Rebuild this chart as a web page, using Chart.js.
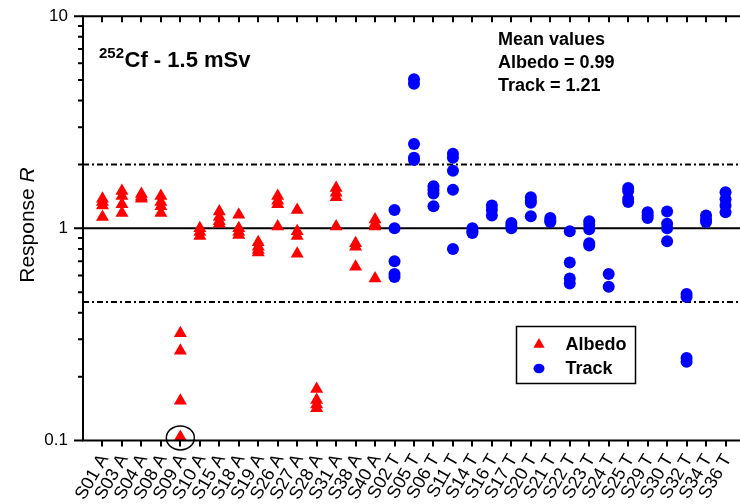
<!DOCTYPE html>
<html><head><meta charset="utf-8">
<script src="https://cdn.jsdelivr.net/npm/chart.js@4"></script>
<style>
html,body{margin:0;padding:0;background:#fff;overflow:hidden;}
#wrap{width:760px;height:504px;position:relative;}
</style></head><body>
<div id="wrap"><canvas id="c" width="760" height="504"></canvas></div>
<script>
// ---------- data ----------
const categories = ['S01 A','S03 A','S04 A','S08 A','S09 A','S10 A','S15 A','S18 A','S19 A','S26 A','S27 A','S28 A','S31 A','S38 A','S40 A',
  'S02 T','S05 T','S06 T','S11 T','S14 T','S16 T','S17 T','S20 T','S21 T','S22 T','S23 T','S24 T','S25 T','S29 T','S30 T','S32 T','S34 T','S36 T'];
const albedoCategories = ['S01 A','S03 A','S04 A','S08 A','S09 A','S10 A','S15 A','S18 A','S19 A','S26 A','S27 A','S28 A','S31 A','S38 A','S40 A'];
const albedoValues = [
  [1.38, 1.33, 1.28, 1.13],
  [1.50, 1.42, 1.30, 1.18],
  [1.45, 1.41, 1.38],
  [1.42, 1.33, 1.27, 1.18],
  [0.32, 0.265, 0.154, 0.104],
  [1.00, 0.96, 0.92],
  [1.20, 1.13, 1.08, 1.05],
  [1.16, 1.00, 0.96, 0.93],
  [0.86, 0.82, 0.79, 0.77],
  [1.42, 1.35, 1.30, 1.02],
  [1.22, 0.97, 0.92, 0.76],
  [0.175, 0.155, 0.148, 0.142],
  [1.55, 1.47, 1.40, 1.02],
  [0.85, 0.82, 0.66],
  [1.10, 1.05, 1.02, 0.58]
];
const trackCategories = ['S02 T','S05 T','S06 T','S11 T','S14 T','S16 T','S17 T','S20 T','S21 T','S22 T','S23 T','S24 T','S25 T','S29 T','S30 T','S32 T','S34 T','S36 T'];
const trackValues = [
  [1.22, 1.00, 0.70, 0.61, 0.59],
  [5.05, 4.80, 2.50, 2.15, 2.10],
  [1.58, 1.52, 1.46, 1.27],
  [2.25, 2.15, 1.87, 1.52, 0.80],
  [1.00, 0.97, 0.95],
  [1.28, 1.22, 1.15],
  [1.06, 1.03, 1.00],
  [1.40, 1.35, 1.32, 1.14],
  [1.12, 1.09, 1.07],
  [0.97, 0.69, 0.58, 0.55],
  [1.08, 1.04, 0.99, 0.85, 0.83],
  [0.61, 0.53],
  [1.55, 1.50, 1.38, 1.33],
  [1.19, 1.15, 1.12],
  [1.20, 1.05, 1.00, 0.87],
  [0.49, 0.475, 0.245, 0.235],
  [1.15, 1.10, 1.07],
  [1.48, 1.37, 1.28, 1.19]
];
const yTickLabels = [0.1, 1, 10];
const refLines = [0.45, 1, 2];
const circledCategory = 'S09 A';
const circledValue = 0.104;
const meanLines = ['Mean values', 'Albedo = 0.99', 'Track = 1.21'];
const sourceIsotope = '252';
const sourceText = 'Cf - 1.5 mSv';
const legendLabels = ['Albedo', 'Track'];

// ---------- build points ----------
function toPoints(cats, vals) {
  const pts = [];
  cats.forEach((c, k) => {
    const xi = categories.indexOf(c);
    vals[k].forEach(v => pts.push({x: xi, y: v}));
  });
  return pts;
}
const albedoPoints = toPoints(albedoCategories, albedoValues);
const trackPoints = toPoints(trackCategories, trackValues);

const FONT = '"Liberation Sans", Arial, sans-serif';

const decoPlugin = {
  id: 'deco',
  beforeDatasetsDraw(chart) {
    const {ctx, chartArea: a, scales: {x, y}} = chart;
    ctx.save();
    ctx.strokeStyle = '#000';
    refLines.forEach(v => {
      const py = y.getPixelForValue(v);
      ctx.lineWidth = 2;
      ctx.setLineDash(v === 1 ? [] : [6, 3, 2, 3]);
      ctx.beginPath();
      ctx.moveTo(a.left, py);
      ctx.lineTo(a.right, py);
      ctx.stroke();
    });
    ctx.restore();
  },
  afterDraw(chart) {
    const {ctx, chartArea: a, scales: {x, y}} = chart;
    ctx.save();
    ctx.strokeStyle = '#000';
    ctx.lineWidth = 2;
    // axes lines
    ctx.beginPath();
    ctx.moveTo(a.left, a.top); ctx.lineTo(a.right, a.top);
    ctx.moveTo(a.left, a.bottom); ctx.lineTo(a.right, a.bottom);
    ctx.moveTo(a.left, a.top - 1); ctx.lineTo(a.left, a.bottom + 1);
    ctx.stroke();
    // x ticks (bottom outward, top inward)
    ctx.beginPath();
    categories.forEach((c, i) => {
      const px = Math.round(x.getPixelForValue(i));
      ctx.moveTo(px, a.bottom); ctx.lineTo(px, a.bottom + 6);
      ctx.moveTo(px, a.top); ctx.lineTo(px, a.top + 6);
    });
    ctx.stroke();
    // y ticks
    ctx.beginPath();
    for (let d = 0.1; d < 10; d *= 10) {
      for (let m = 1; m <= 10; m++) {
        const v = d * m;
        const py = y.getPixelForValue(v);
        const len = (m === 1 || m === 10) ? 9 : 5;
        ctx.moveTo(a.left, py); ctx.lineTo(a.left - len, py);
      }
    }
    ctx.stroke();

    // highlight circle
    const cx = x.getPixelForValue(categories.indexOf(circledCategory));
    const cy = y.getPixelForValue(circledValue);
    ctx.lineWidth = 1.5;
    ctx.beginPath();
    ctx.ellipse(cx, cy + 1, 14, 12, 0, 0, Math.PI * 2);
    ctx.stroke();

    // axis title
    ctx.fillStyle = '#000';
    ctx.save();
    ctx.translate(28, 225);
    ctx.rotate(-Math.PI / 2);
    ctx.textBaseline = 'middle';
    const t1 = 'Response ';
    ctx.font = 'italic 21px ' + FONT;
    const w2 = ctx.measureText('R').width;
    ctx.font = '21px ' + FONT;
    const w1 = ctx.measureText(t1).width;
    const start = -(w1 + w2) / 2;
    ctx.textAlign = 'left';
    ctx.fillText(t1, start, 0);
    ctx.font = 'italic 21px ' + FONT;
    ctx.fillText('R', start + w1, 0);
    ctx.restore();

    // source label
    ctx.textAlign = 'left';
    ctx.textBaseline = 'alphabetic';
    ctx.font = 'bold 15px ' + FONT;
    ctx.fillText(sourceIsotope, 99, 57.5);
    const ws = ctx.measureText(sourceIsotope).width;
    ctx.font = 'bold 22px ' + FONT;
    ctx.fillText(sourceText, 99 + ws + 0.5, 67);

    // mean values
    ctx.font = 'bold 18px ' + FONT;
    meanLines.forEach((t, i) => ctx.fillText(t, 498, 45 + i * 23));

    // legend
    ctx.lineWidth = 1.5;
    ctx.strokeRect(516.5, 326.5, 119, 57);
    ctx.fillStyle = '#ff0000';
    ctx.beginPath();
    const tr = 6.5;
    ctx.moveTo(539, 344.5 - tr);
    ctx.lineTo(539 + tr * 0.866, 344.5 + tr / 2);
    ctx.lineTo(539 - tr * 0.866, 344.5 + tr / 2);
    ctx.closePath();
    ctx.fill();
    ctx.fillStyle = '#0000ff';
    ctx.beginPath();
    ctx.ellipse(539, 368.5, 5.5, 4.8, 0, 0, Math.PI * 2);
    ctx.fill();
    ctx.fillStyle = '#000';
    ctx.font = 'bold 18px ' + FONT;
    ctx.fillText(legendLabels[0], 565.5, 350);
    ctx.fillText(legendLabels[1], 565.5, 373.5);
    ctx.restore();
  }
};

new Chart(document.getElementById('c'), {
  type: 'scatter',
  data: {
    datasets: [
      {label: legendLabels[0], data: albedoPoints, pointStyle: 'triangle', pointRadius: 7.5,
       backgroundColor: '#ff0000', borderColor: '#ff0000', borderWidth: 0},
      {label: legendLabels[1], data: trackPoints, pointStyle: 'circle', pointRadius: 6,
       backgroundColor: '#0000ff', borderColor: '#0000ff', borderWidth: 0}
    ]
  },
  options: {
    responsive: false,
    animation: false,
    devicePixelRatio: 1,
    layout: {padding: {top: 11, right: 15, left: 0, bottom: 0}},
    plugins: {legend: {display: false}, tooltip: {enabled: false}},
    scales: {
      x: {
        type: 'linear', min: -1, max: 33,
        afterBuildTicks(s) { s.ticks = categories.map((c, i) => ({value: i})); },
        afterFit(s) { s.height = 63.5; },
        grid: {display: false, drawTicks: true, tickLength: 6},
        border: {display: false},
        ticks: {
          autoSkip: false, minRotation: 60, maxRotation: 60, padding: 4, labelOffset: 2,
          color: '#000', font: {family: FONT, size: 18},
          callback: (v) => categories[v]
        }
      },
      y: {
        type: 'logarithmic', min: 0.1, max: 10,
        afterBuildTicks(s) { s.ticks = yTickLabels.map(v => ({value: v, major: true})); },
        afterFit(s) { s.width = 83; },
        grid: {display: false, drawTicks: true, tickLength: 9},
        border: {display: false},
        ticks: {
          padding: 6, color: '#000', font: {family: FONT, size: 17},
          callback: (v) => String(v)
        }
      }
    }
  },
  plugins: [decoPlugin]
});
</script>
</body></html>
